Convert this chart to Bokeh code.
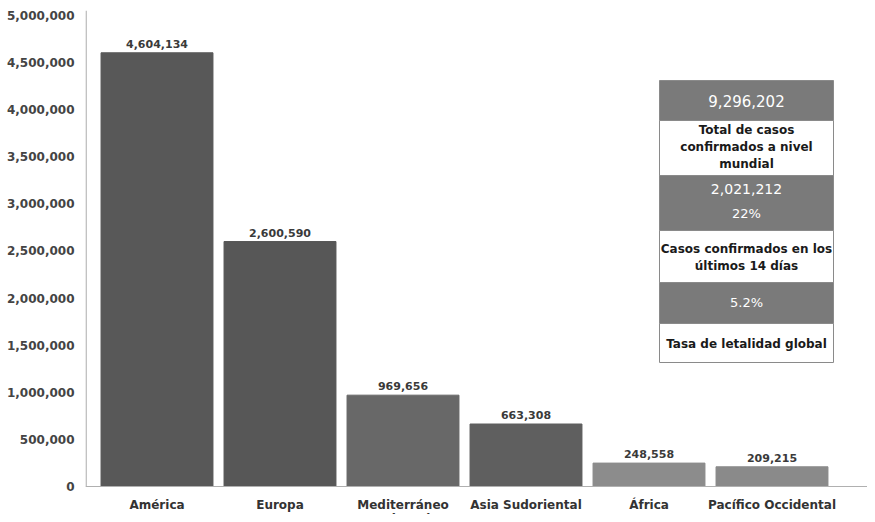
from bokeh.plotting import figure
from bokeh.models import Range1d, FixedTicker, ColumnDataSource, Span
from bokeh.core.properties import value
from bokeh.embed import file_html
from bokeh.resources import INLINE

# ---- data ----
categories = ["América", "Europa", "Mediterráneo\nOriental", "Asia Sudoriental", "África", "Pacífico Occidental"]
cases = [4604134, 2600590, 969656, 663308, 248558, 209215]
bar_colors = ["#585858", "#575757", "#686868", "#5f5f5f", "#8c8c8c", "#8a8a8a"]
y_ticks = [0, 500000, 1000000, 1500000, 2000000, 2500000, 3000000, 3500000, 4000000, 4500000, 5000000]

total_cases = "9,296,202"
total_label = ["Total de casos", "confirmados a nivel", "mundial"]
recent_cases = "2,021,212"
recent_pct = "22%"
recent_label = ["Casos confirmados en los", "últimos 14 días"]
lethality = "5.2%"
lethality_label = "Tasa de letalidad global"

FONT = "DejaVu Sans"

xs = list(range(len(categories)))
labels = [f"{v:,}" for v in cases]
src = ColumnDataSource(dict(x=xs, top=cases, color=bar_colors, label=labels,
                            cat=categories, zero=[0] * len(xs)))

# layout constants (canvas pixels)
W, H = 867, 514
PX_PER_X = 123.0
C0 = 156.5            # x pixel of first category centre
FRAME_L, FRAME_T = 85, 10
ZERO_Y = 486          # y pixel of value 0
X0 = (FRAME_L - C0) / PX_PER_X
X1 = (W - C0) / PX_PER_X
Y1 = 5053000
PX_PER_Y = (ZERO_Y - FRAME_T) / Y1
Y0 = -(H - ZERO_Y) / PX_PER_Y

p = figure(width=W, height=H, output_backend="svg", toolbar_location=None,
           x_range=Range1d(X0, X1), y_range=Range1d(Y0, Y1),
           min_border_left=FRAME_L, min_border_right=0, min_border_top=FRAME_T, min_border_bottom=0)
p.outline_line_color = None
p.grid.visible = False
p.background_fill_color = "white"
p.border_fill_color = "white"
p.xaxis.visible = False

p.vbar(x="x", top="top", bottom=0, width=0.91, color="color", source=src)
p.text(x="x", y="top", text="label", source=src, text_align="center", text_baseline="bottom",
       y_offset=-5, text_font=value(FONT), text_font_style="bold", text_font_size="11px",
       text_color="#3a3a3a")

# baseline and vertical axis line
p.add_layout(Span(location=0, dimension="width", line_color="#b0b0b0", line_width=1))
p.segment(x0=[X0 + 0.6 / PX_PER_X], y0=[0], x1=[X0 + 0.6 / PX_PER_X], y1=[Y1],
          line_color="#a8a8a8", line_width=1.2)

# y axis labels
p.yaxis.ticker = FixedTicker(ticks=y_ticks)
p.yaxis.major_label_overrides = {t: f"{t:,}" for t in y_ticks}
p.yaxis.major_tick_line_color = None
p.yaxis.minor_tick_line_color = None
p.yaxis.axis_line_color = None
p.yaxis.major_label_standoff = 5
p.yaxis.major_label_text_font = FONT
p.yaxis.major_label_text_font_style = "bold"
p.yaxis.major_label_text_font_size = "12px"
p.yaxis.major_label_text_color = "#444444"

# category labels
p.text(x="x", y="zero", text="cat", source=src, y_offset=11, text_align="center",
       text_baseline="top", text_font=value(FONT), text_font_style="bold",
       text_font_size="12px", text_color="#333333", text_line_height=1.0)

# ---- summary box (layout in canvas pixels, converted to data space) ----
def dx(px):
    return (px - C0) / PX_PER_X
def dy(py):
    return (ZERO_Y - py) / PX_PER_Y

bx0, bx1 = 659, 833
bands = [(80, 120, "#7a7a7a"), (120, 175, "white"), (175, 230, "#7a7a7a"),
         (230, 282, "white"), (282, 323, "#7a7a7a"), (323, 362, "white")]
p.quad(left=[dx(bx0)] * len(bands), right=[dx(bx1)] * len(bands),
       top=[dy(b[0]) for b in bands], bottom=[dy(b[1]) for b in bands],
       fill_color=[b[2] for b in bands], line_color="#8a8a8a", line_width=1)

cx = dx((bx0 + bx1) / 2)
def put(text, py, size, bold, color):
    p.text(x=[cx], y=[dy(py)], text=[text], text_align="center", text_baseline="middle",
           text_font=value(FONT), text_font_style="bold" if bold else "normal",
           text_font_size=size, text_color=color)

put(total_cases, 100, "15px", False, "white")
for i, t in enumerate(total_label):
    put(t, 129 + i * 17, "12px", True, "#1a1a1a")
put(recent_cases, 188, "14px", False, "white")
put(recent_pct, 213, "13px", False, "white")
for i, t in enumerate(recent_label):
    put(t, 248 + i * 17, "12px", True, "#1a1a1a")
put(lethality, 302, "13px", False, "white")
put(lethality_label, 343, "12px", True, "#1a1a1a")

open("out.html", "w").write(file_html(p, INLINE))
